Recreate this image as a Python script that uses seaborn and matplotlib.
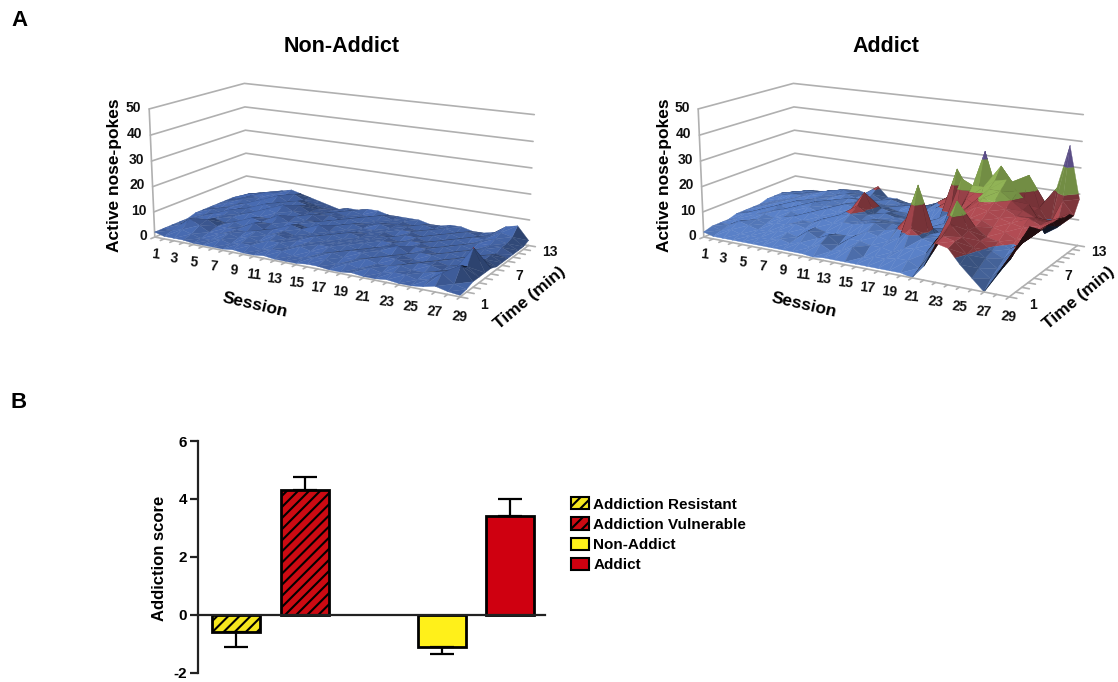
import numpy as np
import pandas as pd
import matplotlib
matplotlib.use('Agg')
import matplotlib.pyplot as plt
from matplotlib.patches import Patch
from mpl_toolkits.mplot3d import proj3d
from mpl_toolkits.mplot3d.art3d import Poly3DCollection
import seaborn as sns

W, H = 1118, 682

# Panel A: active nose-pokes, rows = time bin 1..13, columns = session 1..29
non_addict = [
    [2,1,1,1,.5,.5,.5,.5,1,.5,.5,1,.5,.5,.5,1,1,.5,.5,1,.5,.5,1,.5,.5,1,2,1,.5],
    [2,2,3,2,1,1,2,1,2,2,1,2,2,1,1,2,2,1,2,1,2,1,2,2,1,2,5,2,1],
    [2,3,6,4,2,2,3,2,3,2,3,3,2,3,2,2,3,2,2,3,2,2,3,2,2,3,4,7,2],
    [2,3,4,5,3,3,3,3,4,3,4,3,3,3,3,3,2,3,3,2,3,3,2,3,3,2,3,5,2],
    [2,3,3,4,3,4,3,5,3,4,4,3,3,4,3,3,3,2,3,3,2,3,2,2,3,2,3,10.3,2],
    [3,3,4,4,4,3,5,4,4,3,5,4,3,3,4,3,3,3,2,3,4,2,3,3,2,3,2,4,2],
    [3,4,3,5,4,5,4,4,6,4,4,3,5,3,3,4,3,3,3,3,2,3,3,2,3,2,3,3,1],
    [3,3,4,4,5,4,6,5,4,5,4,4,3,4,3,3,3,3,3,2,3,3,2,3,2,3,2,3,1],
    [3,4,4,5,4,6,5,7,5,4,5,3,4,3,4,3,3,3,2,3,3,2,3,2,3,2,3,2,1],
    [3,4,5,4,6,5,6,5,6,4,4,4,3,4,3,3,4,3,3,3,2,3,2,3,2,3,3,3,1],
    [3,3,5,5,5,7,5,6,5,4,3,4,3,3,4,3,3,3,3,2,3,2,3,2,3,3,4,3,1],
    [2,4,4,6,6,6,7,5,4,3,3,3,4,3,3,4,3,3,2,3,2,3,2,3,2,3,5,4,1],
    [2,3,4,4,6,7,6,5,4,3,2,3,3,4,4,3,3,3,3,2,2,3,3,2,2,3,6,7,2],
]
addict = [
    [2,1,1,1,1,1,1,1,1,1,1,.5,1,1,1,1,1,1,1,1,0,5,14,13,8,4,0,7,14],
    [3,2,3,2,2,2,2,3,2,3,2,4,2,3,5,2,3,3,4,4,2,8,15,14,10,6,3,8,16],
    [3,3,5,4,3,3,4,4,3,6,4,6,3,6,6,5,5,4,6,7,6,12,18,14,11,8,5,9,18],
    [3,4,4,5,4,5,5,6,5,6,5,5,5,6,8,7,6,8,12,9,8,14,25,15,12,9,7,11,20],
    [4,5,5,6,5,6,7,6,6,8,7,8,8,9,10,8,9,14,27,9,9,14,16,15,12,11,9,12,18],
    [4,4,6,6,7,7,6,8,7,7,9,10,8,9,9,9,8,13,12,7,10,15,16,16,14,13,11,12,16],
    [4,5,5,7,6,8,8,7,9,8,8,12,9,8,8,8,8,9,8,6,12,17,19,18,16,15,14,13,16],
    [4,5,6,6,8,7,9,8,8,10,9,16,8,9,8,8,7,6,6,7,14,18,21,20,18,16,16,14,16],
    [5,5,6,7,7,8,7,9,8,9,10,9,9,8,7,7,6,5,7,10,18,16,23,23,20,17,15,14,16],
    [5,6,7,7,8,8,8,8,9,9,8,8,8,7,7,6,5,7,10,24,22,22,25,26,22,18,12,13,15],
    [5,6,6,7,8,9,8,9,8,8,8,7,7,8,9,7,9,12,26,14,18,20,29.5,24,16,14,6,9,15],
    [4,5,6,6,7,8,9,8,8,9,7,8,7,6,7,8,11,12,12,14,33,18,22,20,26,14,8,18,13],
    [3,4,5,5,6,7,6,8,7,11,7,7,6,6,5,8,11,11,9,9,14,12,10,4,6,15,21,38,18],
]
sessions = np.arange(1, 30)
times = np.arange(1, 14)
session_labels = sessions[::2]
time_labels = [1, 7, 13]
z_levels = [0, 10, 20, 30, 40, 50]

# Panel B: addiction score
groups = ['Addiction Resistant', 'Addiction Vulnerable', 'Non-Addict', 'Addict']
scores = [-0.6, 4.3, -1.1, 3.4]
errors = [0.5, 0.45, 0.25, 0.6]
bar_colors = ['#f5e71e', '#cc0a12', '#fff01a', '#cf0010']
hatches = ['///', '///', '', '']

# camera found by fitting to the floor corners of the reference
ELEV, AZIM, FOCAL = 14.8966, -59.924, 0.5368
ASPECT = (2.6446, 1.2843, 1.0358)
SCALE = 2115.361
LINE = '#b0b0b0'
FONT = ['Liberation Sans', 'DejaVu Sans']

bands = [(-1, 10, None), (10, 20, '#a5474e'), (20, 30, '#86a650'), (30, 60, '#6a5a9c')]

sns.set_style('white')
plt.rcParams['font.family'] = FONT
plt.rcParams['font.weight'] = 'bold'
plt.rcParams['text.color'] = 'black'
plt.rcParams['axes.unicode_minus'] = False
plt.rcParams['ytick.color'] = 'black'
plt.rcParams['hatch.linewidth'] = 1.5

fig = plt.figure(figsize=(W / 100, H / 100), dpi=100)


def fx(x):
    return x / W


def fy(y):
    return 1 - y / H


def place(ax, cx, cy):
    # size the square 3d axes so projected data lands on the wanted pixels
    ax.set_position([0, 0, 1000 / W, 1000 / H])
    ax.apply_aspect()
    t = ax.transData.transform([[0, 0], [1, 0]])
    size = 1000 * SCALE / (t[1, 0] - t[0, 0])
    off = t[0] * size / 1000
    ax.set_position([(cx - off[0]) / W, (H - cy - off[1]) / H, size / W, size / H])


def label3d(ax, x, y, z, text, **kw):
    # tick label at a 3d data point, written as plain figure text
    u, v, _ = proj3d.proj_transform(x, y, z, ax.get_proj())
    px = ax.transData.transform((u, v))
    fig.text(px[0] / W, px[1] / H, text, **kw)


def clip_band(tri, lo, hi):
    # cut a triangle to the part between two heights
    poly = tri
    for level, sign in ((lo, 1), (hi, -1)):
        out = []
        for i in range(len(poly)):
            a, b = np.array(poly[i]), np.array(poly[(i + 1) % len(poly)])
            da, db = sign * (a[2] - level), sign * (b[2] - level)
            if da >= 0:
                out.append(a)
            if da * db < 0:
                out.append(a + (b - a) * da / (da - db))
        poly = out
        if not poly:
            break
    return poly


def facets(table, blue, dark_at):
    z = np.array(table, float)
    sc = np.array(ASPECT) / np.array([28, 12, 50])
    er, ar = np.radians(ELEV), np.radians(AZIM)
    view = np.array([np.cos(er) * np.cos(ar), np.cos(er) * np.sin(ar), np.sin(er)])
    light = np.array([-0.15, -0.55, 0.82])
    verts, cols = [], []
    for j in range(len(times) - 1):
        for i in range(len(sessions) - 1):
            p00 = (sessions[i], times[j], z[j, i])
            p10 = (sessions[i + 1], times[j], z[j, i + 1])
            p01 = (sessions[i], times[j + 1], z[j + 1, i])
            p11 = (sessions[i + 1], times[j + 1], z[j + 1, i + 1])
            for tri in ((p00, p10, p11), (p00, p11, p01)):
                a, b, c = [np.array(q) * sc for q in tri]
                n = np.cross(b - a, c - a)
                n = n / np.linalg.norm(n)
                facing = n @ view
                if facing < dark_at:
                    k = 0.2
                elif facing < 0.02:
                    k = 0.7
                else:
                    k = np.clip(1 + 1.6 * (n @ light - 0.82), 0.72, 1.15)
                for lo, hi, col in bands:
                    poly = clip_band(tri, lo, hi)
                    if len(poly) >= 3:
                        base = blue if col is None else col
                        kk = k
                        if lo >= 10:
                            kk = min(k, 1.08)
                        if lo >= 20:
                            kk = max(kk, 0.85)
                        rgb = np.clip(np.array(matplotlib.colors.to_rgb(base)) * kk, 0, 1)
                        verts.append(np.array(poly))
                        cols.append(rgb)
    return verts, cols


def surface_panel(table, blue, cx, cy, shift, dark_at):
    ax = fig.add_axes([0, 0, 0.5, 0.5], projection='3d', computed_zorder=False)
    ax.set_xlim(1, 29, view_margin=0)
    ax.set_ylim(1, 13, view_margin=0)
    ax.set_zlim(0, 50, view_margin=0)
    ax.view_init(elev=ELEV, azim=AZIM)
    ax.set_proj_type('persp', focal_length=FOCAL)
    ax.set_box_aspect(ASPECT)
    ax.set_xticks([])
    ax.set_yticks([])
    ax.set_zticks([])
    ax.set_axis_off()
    place(ax, cx, cy)

    lk = dict(color=LINE, lw=1.2, clip_on=False, zorder=1)
    for z in z_levels:
        ax.plot([1, 1, 29], [1, 13, 13], [z, z, z], **lk)
    ax.plot([1, 1], [1, 1], [0, 50], **lk)

    verts, cols = facets(table, blue, dark_at)
    coll = Poly3DCollection(verts, facecolors=cols, edgecolors=cols, linewidths=0.25, zorder=2)
    coll.set_clip_on(False)
    ax.add_collection3d(coll)

    lk['zorder'] = 3
    ax.plot([1, 29], [1, 1], [0, 0], **lk)
    ax.plot([29, 29], [1, 13], [0, 0], **lk)
    for s in sessions:
        ax.plot([s, s], [1, 0.55], [0, 0], **lk)
    for t in times:
        ax.plot([29, 29.6], [t, t], [0, 0], **lk)
    tk = dict(fontsize=10, color='#111111', ha='center', va='center')
    for s in session_labels:
        label3d(ax, s, 1, -7, str(s), rotation=-6, **tk)
    for t in time_labels:
        label3d(ax, 30.9, t, -1, str(t), **tk)
    tk['ha'] = 'right'
    for z in z_levels:
        label3d(ax, 0.2, 1, z, str(z), **tk)

    fig.text(fx(115 + shift), fy(175), 'Active nose-pokes', rotation=90, fontsize=12.5,
             ha='center', va='center')
    fig.text(fx(255 + shift), fy(305), 'Session', rotation=-13, fontsize=12.5,
             ha='center', va='center')
    fig.text(fx(530 + shift), fy(298), 'Time (min)', rotation=40, fontsize=12.5,
             ha='center', va='center')
    return ax


surface_panel(non_addict, '#3f5d9a', 339.433, 177.457, 0, -0.3)
surface_panel(addict, '#4e70ae', 339.433 + 549, 177.457, 549, -0.03)

fig.text(fx(342), fy(46), 'Non-Addict', fontsize=15.5, ha='center', va='center')
fig.text(fx(886), fy(46), 'Addict', fontsize=15.5, ha='center', va='center')
fig.text(fx(19), fy(21), 'A', fontsize=16, ha='center', va='center')
fig.text(fx(19), fy(403), 'B', fontsize=16, ha='center', va='center')

# Panel B, blank category makes the gap between the two pairs
df = pd.DataFrame({'group': groups, 'score': scores})
order = groups[:2] + [''] + groups[2:]
ax2 = fig.add_axes([fx(198), fy(673), (545 - 198) / W, (673 - 441) / H])
sns.barplot(data=df, x='group', y='score', order=order, hue='group', hue_order=groups,
            palette=dict(zip(groups, bar_colors)), dodge=False, legend=False, saturation=1,
            width=0.7, edgecolor='black', linewidth=2, ax=ax2)
for cont, h, score, err in zip(ax2.containers, hatches, scores, errors):
    for bar in cont:
        if np.isnan(bar.get_height()) or bar.get_height() == 0:
            continue
        bar.set_hatch(h)
        x = bar.get_x() + bar.get_width() / 2
        low = [err] if score < 0 else [0]
        high = [0] if score < 0 else [err]
        ax2.errorbar(x, score, yerr=[low, high], color='black', lw=1.6, capsize=8.5,
                     capthick=1.6, zorder=1)
ax2.set_xlim(-0.555, 4.51)
ax2.set_ylim(-2, 6)
ax2.set_yticks([-2, 0, 2, 4, 6])
ax2.set_xticks([])
ax2.set_xlabel('')
ax2.set_ylabel('')
ax2.tick_params(axis='y', left=True, length=6, width=1.6, labelsize=11, pad=2, color='#222222')
ax2.spines['top'].set_visible(False)
ax2.spines['right'].set_visible(False)
ax2.spines['left'].set_color('#222222')
ax2.spines['left'].set_linewidth(1.6)
ax2.spines['bottom'].set_position(('data', 0))
ax2.spines['bottom'].set_color('#222222')
ax2.spines['bottom'].set_linewidth(1.6)
ax2.patch.set_alpha(0)
fig.text(fx(160), fy(558), 'Addiction score', rotation=90, fontsize=12, ha='center', va='center')

handles = [Patch(facecolor=c, edgecolor='black', hatch=h, linewidth=1.5)
           for c, h in zip(bar_colors, hatches)]
fig.legend(handles, groups, loc='upper left', bbox_to_anchor=(fx(559), fy(485)), frameon=False,
           fontsize=11, handlelength=1.15, handleheight=0.85, handletextpad=0.3, labelspacing=0.38,
           borderpad=0.3)

fig.savefig('out.png', dpi=100)
